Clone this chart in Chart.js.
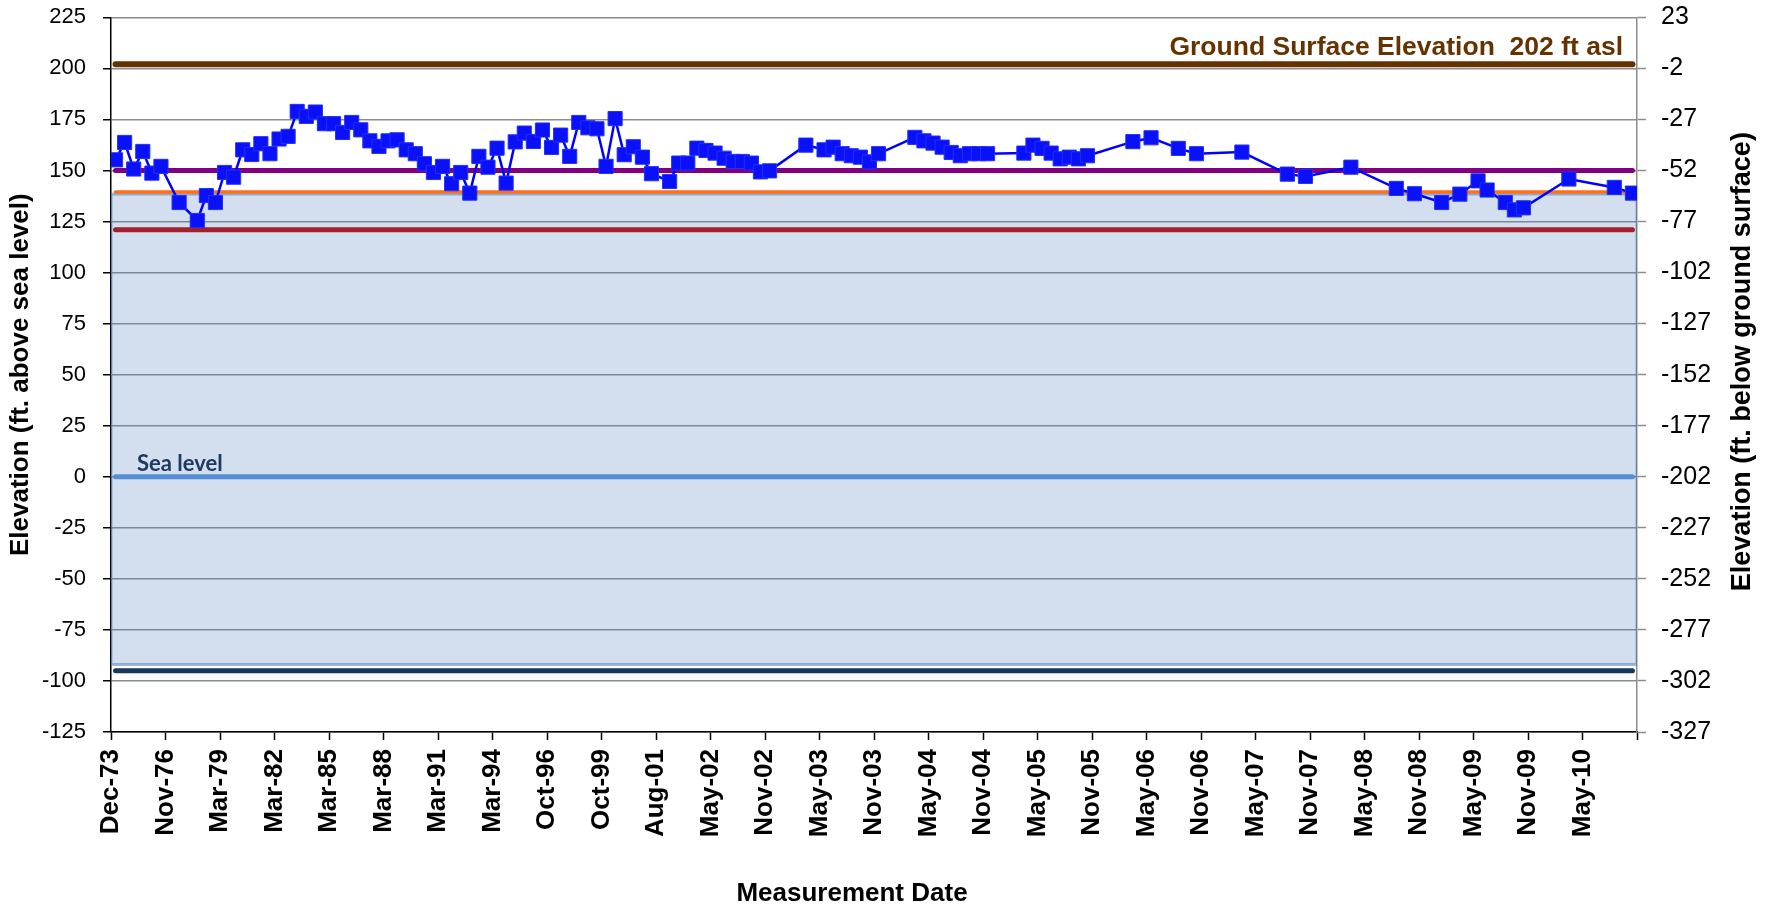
<!DOCTYPE html>
<html>
<head>
<meta charset="utf-8">
<script src="https://cdn.jsdelivr.net/npm/chart.js@4.4.1/dist/chart.umd.min.js"></script>
<style>
  html, body { margin: 0; padding: 0; background: #fff; }
  #wrap { width: 1769px; height: 907px; }
</style>
</head>
<body>
<div id="wrap"><canvas id="chart" width="1769" height="907"></canvas></div>
<script>
// category axis: one slot per row of the sheet, a date label every 6 slots
const tickLabels = [
  'Dec-73', 'Nov-76', 'Mar-79', 'Mar-82', 'Mar-85', 'Mar-88', 'Mar-91', 'Mar-94',
  'Oct-96', 'Oct-99', 'Aug-01', 'May-02', 'Nov-02', 'May-03', 'Nov-03', 'May-04',
  'Nov-04', 'May-05', 'Nov-05', 'May-06', 'Nov-06', 'May-07', 'Nov-07', 'May-08',
  'Nov-08', 'May-09', 'Nov-09', 'May-10'
];
const slotsPerLabel = 6;
const slotCount = 168;

// water level elevation, ft asl (null = no reading in that row)
const waterLevel = [
  155.2, 163.7, 150.7, 159.3, 148.7, 152.0, null, 134.3, null, 125.5, 137.7, 134.3,
  149.0, 146.7, 160.1, 157.8, 163.1, 158.2, 165.4, 166.7, 178.9, 176.5, 178.6, 172.9,
  172.9, 168.6, 173.5, 169.9, 164.5, 161.8, 164.5, 165.0, 160.1, 158.2, 153.3, 149.0,
  152.0, 143.5, 149.0, 138.9, 156.9, 151.6, 160.9, 143.8, 164.0, 168.3, 164.2, 169.8,
  161.3, 167.3, 156.9, 173.5, 170.9, 170.4, 152.0, 175.4, 157.7, 161.6, 156.5, 148.4,
  null, 144.6, 153.6, 153.6, 160.9, 159.8, 158.5, 156.0, 154.4, 154.4, 153.6, 149.3,
  149.8, null, null, null, 162.4, null, 160.1, 161.4, 158.2, 157.2, 156.5, 154.2,
  158.2, null, null, null, 166.2, 164.5, 163.4, 161.4, 158.8, 157.2, 158.2, 158.2,
  158.2, null, null, null, 158.5, 162.4, 160.8, 158.5, 155.7, 156.5, 155.7, 157.2,
  null, null, null, null, 164.1, null, 166.0, null, null, 160.8, null, 158.2,
  null, null, null, null, 159.0, null, null, null, null, 148.2, null, 147.1,
  null, null, null, null, 151.6, null, null, null, null, 141.2, null, 138.6,
  null, null, 134.3, null, 138.4, null, 144.9, 140.4, null, 134.3, 130.7, 131.7,
  null, null, null, null, 145.8, null, null, null, null, 141.7, null, 138.9
];

// reference elevations, ft asl
const groundSurface = 202;
const upperLevel = 150;
const orangeLevel = 139.5;
const lowerLevel = 121;
const seaLevel = 0;
const wellBottom = -95;
const bandTop = 138.5;
const bandBottom = -92;

// left axis range, ft asl; the right axis is the same range below ground
const yMin = -125;
const yMax = 225;

const groundLabel = 'Ground Surface Elevation  202 ft asl';
const seaLabel = 'Sea level';
const xTitle = 'Measurement Date';
const rightTitle = 'Elevation (ft. below ground surface)';

const FONT = '"Liberation Sans", Arial, sans-serif';
Chart.defaults.font.family = FONT;
Chart.defaults.color = '#000';

// horizontal lines run from the first to the last category centre
function flatLine(value) {
  return [{ x: 0.5, y: value }, { x: slotCount - 0.5, y: value }];
}

function refLine(value, color, width) {
  return {
    data: flatLine(value),
    borderColor: color,
    borderWidth: width,
    borderCapStyle: 'round',
    pointRadius: 0,
    fill: false
  };
}

const annotations = {
  id: 'annotations',
  afterDatasetsDraw(chart) {
    const { ctx, chartArea, scales: { y } } = chart;
    ctx.save();
    ctx.fillStyle = '#663300';
    ctx.font = 'bold 26.5px ' + FONT;
    ctx.textAlign = 'right';
    ctx.textBaseline = 'alphabetic';
    ctx.fillText(groundLabel, chartArea.right - 14, y.getPixelForValue(groundSurface) - 9);

    ctx.fillStyle = '#1F3A60';
    ctx.font = 'bold 22px Lato, "Open Sans", sans-serif';
    ctx.textAlign = 'left';
    ctx.fillText(seaLabel, chartArea.left + 26, y.getPixelForValue(seaLevel) - 6);
    ctx.restore();
  },
  afterDraw(chart) {
    const { ctx, chartArea } = chart;
    ctx.save();
    ctx.fillStyle = '#000';
    ctx.font = 'bold 26px ' + FONT;
    ctx.textAlign = 'center';
    ctx.textBaseline = 'middle';
    ctx.fillText(xTitle, (chartArea.left + chartArea.right) / 2 - 22, chart.height - 13);

    ctx.translate(chart.width - 26, (chartArea.top + chartArea.bottom) / 2 - 13);
    ctx.rotate(-Math.PI / 2);
    ctx.font = 'bold 27px ' + FONT;
    ctx.fillText(rightTitle, 0, 0);
    ctx.restore();
  }
};

new Chart(document.getElementById('chart'), {
  type: 'line',
  data: {
    datasets: [
      {
        data: waterLevel.map((v, i) => ({ x: i + 0.5, y: v })),
        borderColor: '#0000FF',
        borderWidth: 2.5,
        spanGaps: true,
        pointStyle: 'rect',
        pointRadius: 10,
        pointBackgroundColor: '#0A10F8',
        pointBorderColor: '#2030FF',
        pointBorderWidth: 1,
        fill: false
      },
      refLine(groundSurface, '#663300', 6),
      refLine(upperLevel, '#800080', 5),
      refLine(orangeLevel, '#FF6E1A', 3.5),
      refLine(lowerLevel, '#A3202E', 5),
      refLine(seaLevel, '#558ED5', 5),
      refLine(wellBottom, '#17375E', 5),
      {
        data: [
          { x: 0, y: bandBottom }, { x: 0, y: bandTop },
          { x: slotCount, y: bandTop }, { x: slotCount, y: bandBottom },
          { x: 0, y: bandBottom }
        ],
        borderColor: 'rgba(79,129,189,0.55)',
        borderWidth: 3,
        backgroundColor: 'rgba(79,127,187,0.25)',
        pointRadius: 0,
        fill: 'shape'
      }
    ]
  },
  options: {
    responsive: false,
    animation: false,
    devicePixelRatio: 1,
    layout: { padding: { top: 17.3, right: 0, bottom: 0, left: 0 } },
    plugins: { legend: { display: false }, tooltip: { enabled: false } },
    scales: {
      x: {
        type: 'linear',
        min: 0,
        max: slotCount,
        ticks: {
          stepSize: slotsPerLabel,
          autoSkip: false,
          minRotation: 90,
          maxRotation: 90,
          padding: 9,
          font: { size: 26, weight: 'bold' },
          callback: v => tickLabels[v / slotsPerLabel] ?? ''
        },
        grid: { drawOnChartArea: false, tickLength: 8, tickColor: '#000', tickWidth: 1.5 },
        border: { color: '#000', width: 1.5 },
        afterFit: s => { s.height = 175; }
      },
      y: {
        position: 'left',
        min: yMin,
        max: yMax,
        ticks: { stepSize: 25, padding: 17, font: { size: 22, lineHeight: 0.01 } },
        grid: { color: '#8C8C8C', lineWidth: 1.5, tickLength: 8, tickColor: '#000' },
        border: { color: '#000', width: 1.5 },
        title: {
          display: true,
          text: 'Elevation (ft. above sea level)',
          font: { size: 26, weight: 'bold', lineHeight: 1 },
          padding: { top: 8, bottom: 0 }
        },
        afterFit: s => { s.width = 111; }
      },
      y2: {
        position: 'right',
        min: yMin - groundSurface,
        max: yMax - groundSurface,
        ticks: { stepSize: 25, padding: 15, font: { size: 25, lineHeight: 0.01 } },
        grid: { drawOnChartArea: false, tickLength: 9, tickColor: '#8C8C8C', tickWidth: 1.5 },
        border: { color: '#8C8C8C', width: 1.5 },
        afterFit: s => { s.width = 132; }
      }
    }
  },
  plugins: [annotations]
});
</script>
</body>
</html>
